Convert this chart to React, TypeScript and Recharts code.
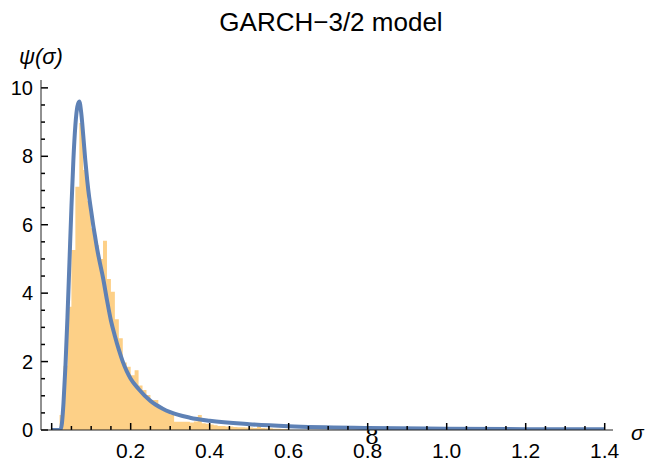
import { ComposedChart, Area, Line, XAxis, YAxis, ReferenceLine } from 'recharts';

// histogram bins (left edge) and their heights
const binStarts = [
  0.02, 0.03, 0.04, 0.05, 0.06, 0.07, 0.08, 0.09, 0.1, 0.11, 0.12, 0.13, 0.14, 0.15, 0.16,
  0.17, 0.18, 0.19, 0.2, 0.21, 0.22, 0.23, 0.24, 0.25, 0.26, 0.27, 0.28, 0.29, 0.3, 0.31,
  0.32, 0.33, 0.34, 0.35, 0.36, 0.37, 0.38, 0.39, 0.4, 0.41, 0.42, 0.43, 0.44, 0.45, 0.46,
  0.47, 0.48, 0.49, 0.5, 0.51, 0.52, 0.53, 0.54, 0.55, 0.56, 0.57, 0.58, 0.59, 0.6,
];
const binHeights = [
  0.44, 1.88, 3.6, 5.26, 7.11, 8.97, 7.6, 6.7, 5.9, 5.4, 5.0, 5.53, 4.41, 4.04, 3.24,
  2.68, 1.97, 1.85, 1.6, 1.75, 1.3, 1.17, 1.02, 0.88, 0.88, 0.7, 0.58, 0.58, 0.45, 0.24,
  0.24, 0.24, 0.24, 0.22, 0.25, 0.44, 0.2, 0.18, 0.16, 0.14, 0.12, 0.12, 0.1, 0.1, 0.09,
  0.08, 0.08, 0.07, 0.07, 0.06, 0.2, 0.06, 0.05, 0.05, 0.04, 0.04, 0.03, 0.03, 0,
];

// model density
const curveX = [
  0, 0.022, 0.026, 0.03, 0.035, 0.04, 0.045, 0.05, 0.055, 0.06, 0.065, 0.07, 0.075, 0.08,
  0.085, 0.09, 0.095, 0.1, 0.105, 0.11, 0.115, 0.12, 0.13, 0.14, 0.15, 0.16, 0.17, 0.18,
  0.19, 0.2, 0.22, 0.25, 0.28, 0.3, 0.35, 0.4, 0.5, 0.6, 0.8, 1.0, 1.2, 1.4,
];
const curveY = [
  0, 0, 0.2, 0.8, 1.9, 3.3, 4.9, 6.5, 7.9, 8.9, 9.45, 9.6, 9.25, 8.6,
  7.9, 7.3, 6.8, 6.4, 6.0, 5.65, 5.3, 5.0, 4.45, 3.8, 3.2, 2.75, 2.35, 2.0,
  1.72, 1.5, 1.2, 0.85, 0.63, 0.52, 0.36, 0.27, 0.17, 0.11, 0.06, 0.04, 0.025, 0.02,
];

const xTicks = [
  0, 0.05, 0.1, 0.15, 0.2, 0.25, 0.3, 0.35, 0.4, 0.45, 0.5, 0.55, 0.6, 0.65, 0.7, 0.75,
  0.8, 0.85, 0.9, 0.95, 1.0, 1.05, 1.1, 1.15, 1.2, 1.25, 1.3, 1.35, 1.4,
];
const xLabels = ['', '0.2', '0.4', '0.6', '0.8', '1.0', '1.2', '1.4'];
const yTicks = [
  0, 0.5, 1, 1.5, 2, 2.5, 3, 3.5, 4, 4.5, 5, 5.5, 6, 6.5, 7, 7.5, 8, 8.5, 9, 9.5, 10,
];
const yLabels = ['0', '2', '4', '6', '8', '10'];

const X_MIN = -0.027;
const X_MAX = 1.421;
const Y_MAX = 10.23;

const histData = [
  ...binStarts.map((x, i) => ({ x, h: binHeights[i] })),
  { x: binStarts[binStarts.length - 1] + 0.01, h: 0 },
];
const curveData = curveX.map((x, i) => ({ x, y: curveY[i] }));

const FONT = '"Liberation Sans", Arial, sans-serif';
const AXIS = '#000';
// inward tick lengths in axis units (plot is 572 x 350 px)
const PX_X = (X_MAX - X_MIN) / 572;
const PX_Y = Y_MAX / 350;

const XTick = (props: any) => {
  const { x, y, payload } = props;
  const k = Math.round(payload.value / 0.05);
  if (k % 4 !== 0) return <g />;
  return (
    <text x={x} y={y + 28} textAnchor="middle" fontSize={21} fontFamily={FONT} fill="#000">
      {xLabels[k / 4]}
    </text>
  );
};

const YTick = (props: any) => {
  const { x, y, payload } = props;
  const k = Math.round(payload.value / 0.5);
  if (k % 4 !== 0) return <g />;
  return (
    <text x={x - 8} y={y + 7} textAnchor="end" fontSize={20} fontFamily={FONT} fill="#000">
      {yLabels[k / 4]}
    </text>
  );
};

export default function App() {
  return (
    <div style={{ position: 'absolute', left: 0, top: 0, width: 645, height: 465, background: '#fff' }}>
      <ComposedChart width={645} height={465} margin={{ top: 80, right: 32, bottom: 0, left: 0 }}>
        <XAxis
          dataKey="x"
          type="number"
          domain={[X_MIN, X_MAX]}
          allowDataOverflow
          ticks={xTicks}
          interval={0}
          tick={<XTick />}
          tickSize={0}
          tickMargin={0}
          tickLine={false}
          axisLine={{ stroke: '#222', strokeWidth: 1 }}
          height={35}
        />
        <YAxis
          type="number"
          domain={[0, Y_MAX]}
          allowDataOverflow
          ticks={yTicks}
          interval={0}
          tick={<YTick />}
          tickSize={0}
          tickMargin={0}
          tickLine={false}
          axisLine={{ stroke: '#222', strokeWidth: 1 }}
          width={41}
        />
        <Area
          data={histData}
          dataKey="h"
          type="stepAfter"
          fill="#FDD087"
          fillOpacity={1}
          stroke="none"
          isAnimationActive={false}
          dot={false}
          activeDot={false}
        />
        <Line
          data={curveData}
          dataKey="y"
          type="monotone"
          stroke="#5E81B5"
          strokeWidth={4}
          dot={false}
          activeDot={false}
          isAnimationActive={false}
        />
        {xTicks.map((v, i) => (
          <ReferenceLine
            key={`xt${i}`}
            segment={[
              { x: v, y: 0 },
              { x: v, y: (i % 4 === 0 ? 7 : 4) * PX_Y },
            ]}
            stroke={AXIS}
            strokeWidth={1.5}
            ifOverflow="visible"
          />
        ))}
        {yTicks.map((v, i) => (
          <ReferenceLine
            key={`yt${i}`}
            segment={[
              { x: X_MIN, y: v },
              { x: X_MIN + (i % 4 === 0 ? 7 : 4) * PX_X, y: v },
            ]}
            stroke={AXIS}
            strokeWidth={1.5}
            ifOverflow="visible"
          />
        ))}
        <text x={331} y={31} textAnchor="middle" fontSize={26} fontFamily={FONT} fill="#000">
          GARCH−3/2 model
        </text>
        <text x={19} y={64} fontSize={22} fontStyle="italic" fontFamily={FONT} fill="#000">
          ψ(σ)
        </text>
        <text x={631} y={440} fontSize={21} fontStyle="italic" fontFamily={FONT} fill="#000">
          σ
        </text>
        <text x={372} y={444} textAnchor="middle" fontSize={22} fontFamily='"DejaVu Serif", serif' fill="#000">
          8
        </text>
      </ComposedChart>
    </div>
  );
}
